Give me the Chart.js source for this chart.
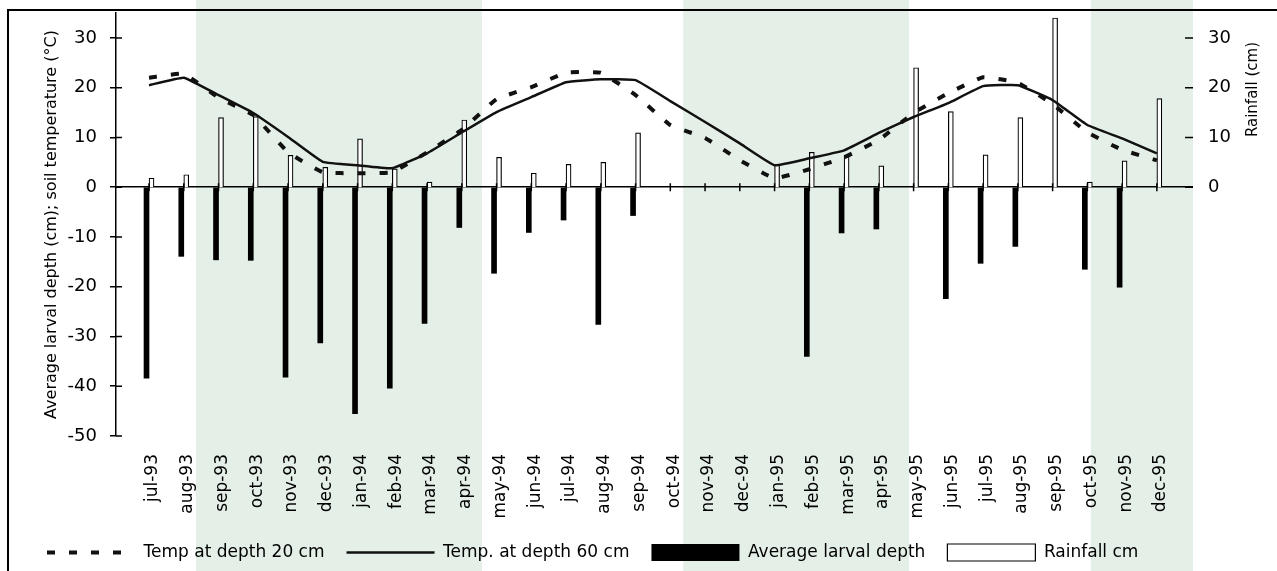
<!DOCTYPE html>
<html>
<head>
<meta charset="utf-8">
<title>Larval depth, soil temperature and rainfall</title>
<script src="https://cdn.jsdelivr.net/npm/chart.js@4/dist/chart.umd.min.js"></script>
<style>
  html, body { margin: 0; padding: 0; background: #fff; }
  #wrap { width: 1277px; height: 571px; position: relative; }
</style>
</head>
<body>
<div id="wrap"><canvas id="chart"></canvas></div>
<script>
// Monthly data, jul-93 to dec-95
const months = ['jul-93', 'aug-93', 'sep-93', 'oct-93', 'nov-93', 'dec-93', 'jan-94', 'feb-94',
  'mar-94', 'apr-94', 'may-94', 'jun-94', 'jul-94', 'aug-94', 'sep-94', 'oct-94', 'nov-94',
  'dec-94', 'jan-95', 'feb-95', 'mar-95', 'apr-95', 'may-95', 'jun-95', 'jul-95', 'aug-95',
  'sep-95', 'oct-95', 'nov-95', 'dec-95'];

const temp20 = [22, 22.8, 18, 14.5, 7, 3, 2.8, 3, 7, 11.5, 17.7, 20.1, 23, 23, 18.5, 12.5,
  9.9, 5.4, 1.8, 3.6, 6, 9.5, 14.9, 18.9, 22.1, 21, 16.7, 11, 7.5, 5.4];

const temp60 = [20.5, 22, 18.5, 14.9, 10.1, 5.1, 4.4, 3.8, 6.8, 11, 15.1, 18.1, 21.1, 21.7,
  21.5, 17.3, 13.1, 8.8, 4.4, 5.8, 7.4, 10.9, 14.1, 16.9, 20.3, 20.5, 17.5, 12.5, 9.8, 6.8];

const larvalDepth = [-38.4, -13.9, -14.6, -14.7, -38.2, -31.3, -45.5, -40.4, -27.4, -8.1,
  -17.3, -9.1, -6.6, -27.6, -5.7, null, null, null, null, -34, -9.2, -8.4, null, -22.4,
  -15.3, -11.9, null, -16.5, -20.1, null];

const rainfall = [1.8, 2.5, 14, 14.2, 6.4, 4, 9.7, 3.7, 1, 13.5, 6, 2.8, 4.6, 5, 10.9,
  null, null, null, 4.5, 7, 6.3, 4.3, 24, 15.2, 6.5, 14, 34, 1, 5.3, 17.8];

const leftTicks = [-50, -40, -30, -20, -10, 0, 10, 20, 30];
const rainTicks = [0, 10, 20, 30];

// shaded periods, in month index units
const shadedPeriods = [[1.35, 9.58], [15.37, 21.87], [27.1, 30.04]];

const FONT = 'DejaVu Sans';
const toPoints = arr => arr.map((v, i) => ({ x: i, y: v }));

// keep tick label padding from pushing the plot area down
const noVerticalPadding = s => {
  s.paddingTop = 0;
  s.paddingBottom = 0;
};

// green background bands behind the plot
const shading = {
  id: 'shading',
  beforeDraw(chart) {
    const { ctx, scales: { x } } = chart;
    ctx.save();
    ctx.fillStyle = '#e4f0e7';
    shadedPeriods.forEach(([a, b]) => {
      const x0 = x.getPixelForValue(a);
      const x1 = x.getPixelForValue(b);
      ctx.fillRect(x0, 0, x1 - x0, chart.height);
    });
    ctx.restore();
  }
};

// inner tick marks, frame and right axis title
const decorations = {
  id: 'decorations',
  afterDraw(chart) {
    const { ctx, chartArea, scales: { x, y, y2 } } = chart;
    ctx.save();
    ctx.strokeStyle = '#000';
    ctx.lineWidth = 1.5;
    ctx.beginPath();
    y.ticks.forEach(t => {
      const py = y.getPixelForValue(t.value);
      ctx.moveTo(chartArea.left, py);
      ctx.lineTo(chartArea.left + 6, py);
    });
    y2.ticks.forEach(t => {
      const py = y2.getPixelForValue(t.value);
      ctx.moveTo(chartArea.right - 8, py);
      ctx.lineTo(chartArea.right, py);
    });
    const y0 = y.getPixelForValue(0);
    months.forEach((m, i) => {
      const px = x.getPixelForValue(i);
      ctx.moveTo(px, y0 - 4);
      ctx.lineTo(px, y0 + 4);
    });
    ctx.stroke();

    ctx.lineWidth = 2;
    ctx.beginPath();
    ctx.moveTo(8, chart.height);
    ctx.lineTo(8, 10);
    ctx.lineTo(chart.width, 10);
    ctx.stroke();

    ctx.fillStyle = '#000';
    ctx.font = '15px "' + FONT + '"';
    ctx.translate(y2.right - 24, chartArea.top + 29);
    ctx.rotate(-Math.PI / 2);
    ctx.textAlign = 'right';
    ctx.textBaseline = 'middle';
    ctx.fillText('Rainfall (cm)', 0, 0);
    ctx.restore();
  }
};

new Chart(document.getElementById('chart'), {
  data: {
    datasets: [
      {
        type: 'line',
        label: 'Temp at depth 20 cm',
        data: toPoints(temp20),
        borderColor: '#111',
        borderWidth: 4,
        borderDash: [8, 14],
        pointRadius: 0,
        tension: 0.1,
        order: 1
      },
      {
        type: 'line',
        label: 'Temp. at depth 60 cm',
        data: toPoints(temp60),
        borderColor: '#111',
        borderWidth: 2.5,
        pointRadius: 0,
        tension: 0.1,
        order: 1
      },
      {
        type: 'bar',
        label: 'Average larval depth',
        data: toPoints(larvalDepth),
        backgroundColor: '#000',
        barThickness: 5,
        order: 2
      },
      {
        type: 'bar',
        label: 'Rainfall cm',
        data: toPoints(rainfall),
        backgroundColor: '#fff',
        borderColor: '#000',
        borderWidth: 1.2,
        barThickness: 5,
        yAxisID: 'y2',
        order: 2
      }
    ]
  },
  options: {
    responsive: true,
    maintainAspectRatio: false,
    animation: false,
    layout: { autoPadding: false, padding: { left: 25, top: 13, right: 0, bottom: 0 } },
    plugins: {
      tooltip: { enabled: false },
      legend: {
        position: 'bottom',
        align: 'start',
        labels: {
          usePointStyle: true,
          pointStyleWidth: 88,
          boxHeight: 17,
          padding: 22,
          color: '#000',
          font: { family: FONT, size: 17 },
          generateLabels: chart =>
            Chart.defaults.plugins.legend.labels.generateLabels(chart).map(item => {
              const ds = chart.data.datasets[item.datasetIndex];
              return Object.assign(item, {
                pointStyle: ds.type === 'line' ? 'line' : 'rect',
                lineDash: ds.borderDash || [],
                lineWidth: ds.borderWidth || 0,
                strokeStyle: ds.borderColor || ds.backgroundColor,
                fillStyle: ds.backgroundColor
              });
            })
        }
      }
    },
    scales: {
      x: {
        type: 'linear',
        offset: false,
        min: -0.95,
        max: 30.04,
        grid: { display: false },
        border: { display: false },
        afterBuildTicks: s => { s.ticks = months.map((m, i) => ({ value: i })); },
        afterFit: s => { s.height = 86; },
        ticks: {
          autoSkip: false,
          maxRotation: 90,
          minRotation: 90,
          padding: 10,
          labelOffset: 4,
          color: '#000',
          font: { family: FONT, size: 17 },
          callback: v => months[v]
        }
      },
      y: {
        min: -50,
        max: 35,
        afterBuildTicks: s => { s.ticks = leftTicks.map(v => ({ value: v })); },
        afterFit: s => {
          s.width = 91;
          noVerticalPadding(s);
        },
        border: { color: '#000', width: 1.5 },
        grid: {
          color: c => (c.tick && c.tick.value === 0 ? '#000' : 'rgba(0,0,0,0)'),
          lineWidth: 1.5,
          tickColor: '#000',
          tickLength: 6
        },
        ticks: { padding: 13, color: '#000', font: { family: FONT, size: 18 } },
        title: {
          display: true,
          text: 'Average larval depth (cm); soil temperature (°C)',
          color: '#000',
          font: { family: FONT, size: 16 },
          padding: { top: 17, bottom: 0 }
        }
      },
      y2: {
        position: 'right',
        min: -50,
        max: 35,
        afterBuildTicks: s => { s.ticks = rainTicks.map(v => ({ value: v })); },
        afterFit: s => {
          s.width = 84;
          noVerticalPadding(s);
        },
        border: { display: false },
        grid: { display: false, drawTicks: false },
        ticks: { padding: 15, color: '#000', font: { family: FONT, size: 18 } }
      }
    }
  },
  plugins: [shading, decorations]
});
</script>
</body>
</html>
